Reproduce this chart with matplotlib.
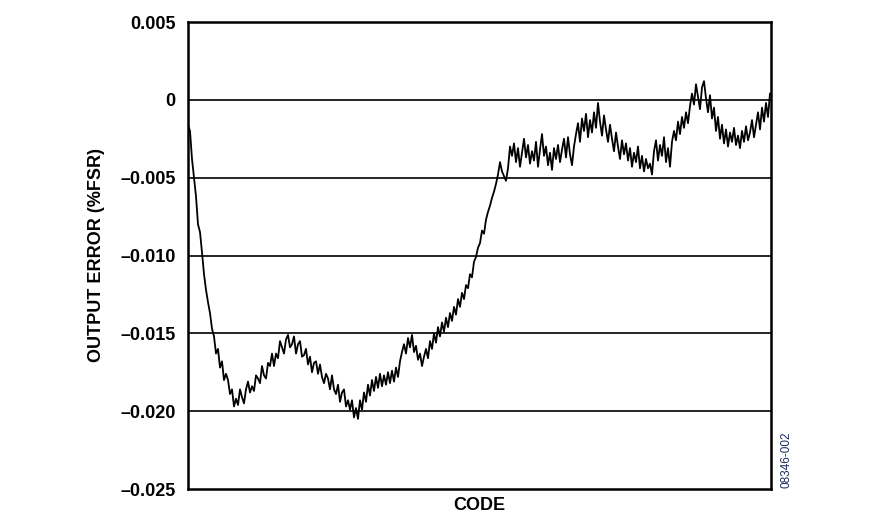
import numpy as np
import matplotlib
matplotlib.use("Agg")
import matplotlib.pyplot as plt

plt.rcParams['font.family'] = ['Liberation Sans', 'DejaVu Sans']

# Output error (%FSR) versus code
error_fsr = [
    # initial steep fall
    -0.0016, -0.0020, -0.0038, -0.0050, -0.0062, -0.0080, -0.0085, -0.0098, -0.0112, -0.0122,
    -0.0130, -0.0137, -0.0147, -0.0152, -0.0163, -0.0160, -0.0172, -0.0168, -0.0180, -0.0176,
    # first valley and rise to local peak
    -0.0180, -0.0189, -0.0186, -0.0197, -0.0192, -0.0196, -0.0186, -0.0191, -0.0195, -0.0186,
    -0.0181, -0.0188, -0.0184, -0.0187, -0.0177, -0.0179, -0.0182, -0.0171, -0.0177, -0.0179,
    -0.0169, -0.0171, -0.0163, -0.0171, -0.0163, -0.0166, -0.0155, -0.0159, -0.0163, -0.0154,
    -0.0151, -0.0159,
    # descent to minimum
    -0.0157, -0.0152, -0.0163, -0.0157, -0.0155, -0.0165, -0.0164, -0.0160, -0.0170, -0.0165,
    -0.0175, -0.0169, -0.0168, -0.0176, -0.0170, -0.0178, -0.0182, -0.0176, -0.0179, -0.0186,
    -0.0177, -0.0186, -0.0189, -0.0183, -0.0194, -0.0188, -0.0186, -0.0197, -0.0193, -0.0199,
    -0.0193, -0.0204, -0.0198,
    # recovery
    -0.0205, -0.0193, -0.0199, -0.0188, -0.0194, -0.0183, -0.0190, -0.0180, -0.0187, -0.0178,
    -0.0185, -0.0176, -0.0184, -0.0177, -0.0183, -0.0175, -0.0182, -0.0174, -0.0181, -0.0172,
    -0.0178, -0.0168,
    -0.0162, -0.0157, -0.0163, -0.0153, -0.0159, -0.0151, -0.0162, -0.0158, -0.0167, -0.0163,
    -0.0171, -0.0165, -0.0160, -0.0166, -0.0155, -0.0160, -0.0150, -0.0156, -0.0146, -0.0152,
    -0.0143, -0.0149, -0.0140, -0.0146, -0.0137, -0.0142, -0.0133, -0.0138, -0.0128, -0.0133,
    # steep rise
    -0.0124, -0.0128, -0.0119, -0.0121, -0.0112, -0.0114, -0.0104, -0.0101, -0.0095, -0.0092,
    -0.0084, -0.0086, -0.0077, -0.0072, -0.0068, -0.0063, -0.0059, -0.0054, -0.0048, -0.0040,
    -0.0046, -0.0049, -0.0052, -0.0044, -0.0030, -0.0036,
    # plateau
    -0.0028, -0.0040, -0.0031, -0.0043, -0.0034, -0.0025, -0.0037, -0.0029, -0.0041, -0.0033,
    -0.0039, -0.0027, -0.0043, -0.0032, -0.0022, -0.0036, -0.0030, -0.0042, -0.0034, -0.0045,
    -0.0031, -0.0038, -0.0029, -0.0040, -0.0032, -0.0025, -0.0037, -0.0024, -0.0035, -0.0042,
    -0.0030,
    # upper section
    -0.0022, -0.0015, -0.0027, -0.0012, -0.0020, -0.0009, -0.0024, -0.0013, -0.0021, -0.0008,
    -0.0018, -0.0002, -0.0014, -0.0023, -0.0010, -0.0019, -0.0027, -0.0016, -0.0025, -0.0033,
    -0.0021, -0.0030, -0.0038, -0.0026, -0.0035, -0.0028, -0.0039, -0.0031, -0.0043, -0.0034,
    -0.0040, -0.0030, -0.0044, -0.0036, -0.0046, -0.0038, -0.0044, -0.0041, -0.0048, -0.0033,
    -0.0026, -0.0039, -0.0029, -0.0036, -0.0024, -0.0040, -0.0031, -0.0043, -0.0027, -0.0020,
    -0.0026, -0.0014, -0.0022, -0.0011, -0.0018, -0.0008, -0.0015, -0.0004, 0.0004, -0.0003,
    0.0010, 0.0002, -0.0006, 0.0008, 0.0012, 0.0001, -0.0008, 0.0003, -0.0012, -0.0005,
    -0.0020, -0.0011, -0.0025, -0.0016, -0.0028, -0.0019, -0.0030, -0.0021, -0.0027, -0.0018,
    -0.0029, -0.0023, -0.0031, -0.0020, -0.0027, -0.0017, -0.0026, -0.0021, -0.0013, -0.0024,
    -0.0016, -0.0008, -0.0019, -0.0005, -0.0014, -0.0002, -0.0011, 0.0004,
]
codes = np.arange(len(error_fsr))

y_ticks = [-0.025, -0.020, -0.015, -0.010, -0.005, 0, 0.005]
y_tick_labels = ['–0.025', '–0.020', '–0.015', '–0.010', '–0.005', '0', '0.005']

fig = plt.figure(figsize=(8.77, 5.26), dpi=100)
ax = fig.add_axes([188 / 877, 1 - 489 / 526, (771 - 188) / 877, (489 - 22) / 526])

for yv in y_ticks[1:-1]:
    ax.axhline(yv, color='black', lw=1.2, zorder=1)

ax.plot(codes, error_fsr, color='black', lw=1.3, zorder=2)

ax.set_xlim(0, len(error_fsr) - 0.5)
ax.set_ylim(-0.025, 0.005)
ax.set_yticks(y_ticks)
ax.set_yticklabels(y_tick_labels, fontsize=13, fontweight='bold')
ax.set_xticks([])
ax.tick_params(axis='y', length=0, pad=9)

for sp in ax.spines.values():
    sp.set_linewidth(1.8)
    sp.set_color('black')

ax.set_ylabel('OUTPUT ERROR (%FSR)', fontsize=13, fontweight='bold', labelpad=11)
ax.set_xlabel('CODE', fontsize=13, fontweight='bold', labelpad=6)

fig.text(787 / 877, 1 - 460 / 526, '08346-002', rotation=90, fontsize=8.5,
         color='#1c2c5c', ha='center', va='center')

fig.savefig('out.png', dpi=100)
